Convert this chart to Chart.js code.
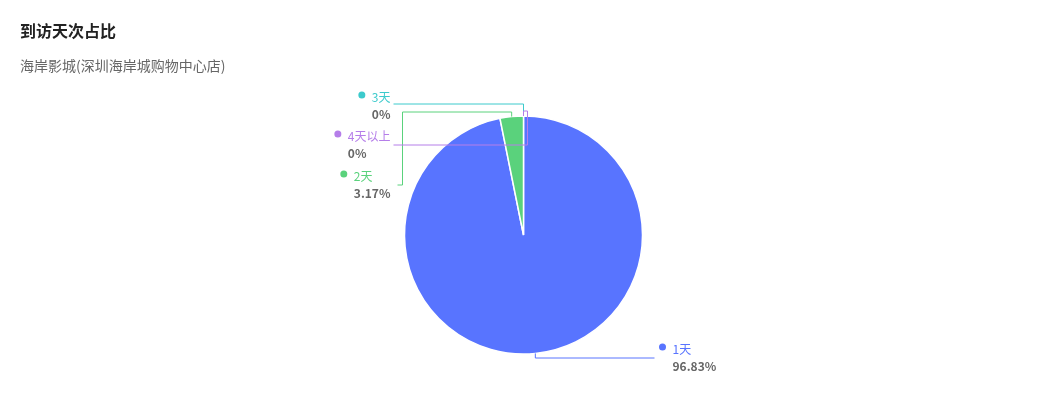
<!DOCTYPE html>
<html>
<head>
<meta charset="utf-8">
<script src="https://cdn.jsdelivr.net/npm/chart.js@4"></script>
<style>
  body { margin: 0; background: #fff; font-family: "Noto Sans CJK SC", "Noto Sans", sans-serif; }
  #wrap { position: relative; width: 1047px; height: 411px; }
  #title { position: absolute; left: 20px; top: 18px; font-size: 16px; font-weight: bold; color: #222; }
  #subtitle { position: absolute; left: 20px; top: 55px; font-size: 14px; color: #666; }
  canvas { position: absolute; left: 0; top: 0; }
</style>
</head>
<body>
<div id="wrap">
  <canvas id="visitChart" width="1047" height="411"></canvas>
  <div id="title">到访天次占比</div>
  <div id="subtitle">海岸影城(深圳海岸城购物中心店)</div>
</div>
<script>
const categories = ['1天', '2天', '3天', '4天以上'];
const shares = [96.83, 3.17, 0, 0];
const shareLabels = ['96.83%', '3.17%', '0%', '0%'];
const colors = ['#5874ff', '#5ad27c', '#3ccacc', '#b57ee9'];

// leader line layout, relative to pie centre ('a' = anchor on the arc)
const labelLayout = [
    { side: 'right', textX: 149, textY: 114, path: [['a', 'a'], ['a', 123], [131, 123]] },
    { side: 'left', textX: -133, textY: -59, path: [['a', 'a'], ['a', -123], [-121, -123], [-121, -50], [-126, -50]] },
    { side: 'left', textX: -133, textY: -138, path: [['a', 'a'], ['a', -131], [-130, -131]] },
    { side: 'left', textX: -133, textY: -99, path: [['a', 'a'], ['a', -124], [4, -124], [4, -90], [-130, -90]] }
];

const pieLabels = {
    id: 'pieLabels',
    afterDatasetsDraw(chart) {
        const ctx = chart.ctx;
        const meta = chart.getDatasetMeta(0);
        meta.data.forEach((arc, i) => {
            const lay = labelLayout[i];
            const p = arc.getProps(['x', 'y', 'startAngle', 'endAngle', 'outerRadius'], true);
            const mid = (p.startAngle + p.endAngle) / 2;
            const ax = p.x + Math.cos(mid) * p.outerRadius;
            const ay = p.y + Math.sin(mid) * p.outerRadius;
            ctx.save();
            ctx.strokeStyle = colors[i];
            ctx.lineWidth = 1;
            ctx.beginPath();
            lay.path.forEach((pt, k) => {
                const x = pt[0] === 'a' ? ax : p.x + pt[0];
                const y = pt[1] === 'a' ? ay : p.y + pt[1];
                if (k === 0) ctx.moveTo(x, y); else ctx.lineTo(x, y);
            });
            ctx.stroke();

            ctx.font = '12px "Noto Sans CJK SC", sans-serif';
            const w1 = ctx.measureText(categories[i]).width;
            ctx.font = 'bold 12px "Noto Sans CJK SC", sans-serif';
            const w2 = ctx.measureText(shareLabels[i]).width;
            let tx = p.x + lay.textX;
            if (lay.side === 'left') tx -= Math.max(w1, w2);
            const ty = p.y + lay.textY;

            ctx.fillStyle = colors[i];
            ctx.beginPath();
            ctx.arc(tx - 10, ty - 2, 3.5, 0, Math.PI * 2);
            ctx.fill();

            ctx.textAlign = 'left';
            ctx.textBaseline = 'middle';
            ctx.font = '12px "Noto Sans CJK SC", sans-serif';
            ctx.fillText(categories[i], tx, ty);
            ctx.fillStyle = '#666';
            ctx.font = 'bold 12px "Noto Sans CJK SC", sans-serif';
            ctx.fillText(shareLabels[i], tx, ty + 17);
            ctx.restore();
        });
    }
};

new Chart(document.getElementById('visitChart').getContext('2d'), {
    type: 'pie',
    data: {
        labels: categories,
        datasets: [{
            data: shares,
            backgroundColor: colors,
            borderColor: '#fff',
            borderWidth: 1.5,
            hoverOffset: 0
        }]
    },
    options: {
        responsive: false,
        animation: false,
        radius: 119,
        layout: { padding: { top: 116, bottom: 57 } },
        plugins: {
            legend: { display: false },
            tooltip: { enabled: false }
        }
    },
    plugins: [pieLabels]
});
</script>
</body>
</html>
